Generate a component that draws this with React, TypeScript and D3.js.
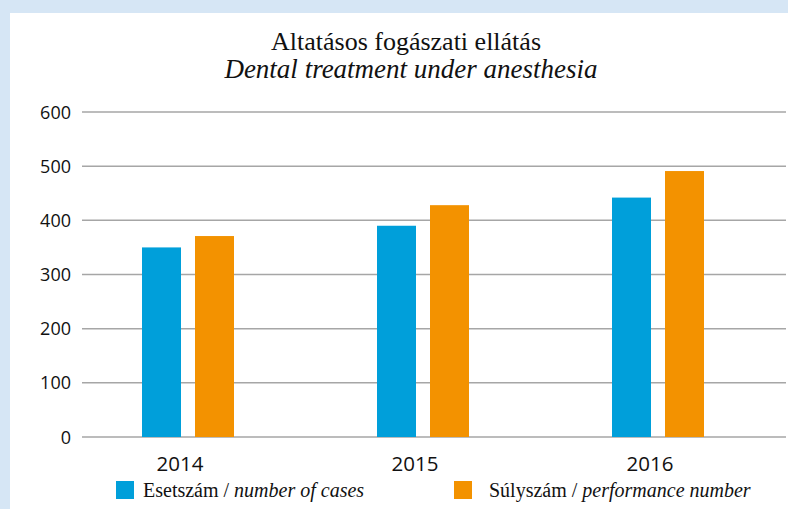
import React from "react";
import * as d3 from "d3";

const categories = ["2014", "2015", "2016"];
const cases = [350, 390, 442];
const performance = [371, 428, 491];
const yTicks = [0, 100, 200, 300, 400, 500, 600];

const W = 788;
const H = 509;

export default function App() {
  const x = d3.scaleBand<string>().domain(categories).range([70.5, 775.5]).padding(0);
  const y = d3.scaleLinear().domain([0, 600]).range([437, 112]);
  const barW = 39;
  const gap = 14;
  const series = [
    { name: "cases", values: cases, color: "#009fda", offset: -gap / 2 - barW },
    { name: "perf", values: performance, color: "#f39200", offset: gap / 2 },
  ];
  const cx = (c: string) => (x(c) as number) + x.bandwidth() / 2;
  return (
    <svg
      width={W}
      height={H}
      style={{ position: "absolute", left: 0, top: 0, display: "block" }}
    >
      <rect x={0} y={0} width={W} height={H} fill="#d6e6f5" />
      <rect x={10} y={13} width={W - 10} height={H - 13} fill="#ffffff" />
      <text
        x={406}
        y={50}
        textAnchor="middle"
        fontFamily="'Liberation Serif', serif"
        fontSize={26}
        fill="#111"
      >
        Altatásos fogászati ellátás
      </text>
      <text
        x={411}
        y={78}
        textAnchor="middle"
        fontFamily="'Liberation Serif', serif"
        fontStyle="italic"
        fontSize={27}
        fill="#111"
      >
        Dental treatment under anesthesia
      </text>
      {yTicks.map((t) => (
        <g key={t}>
          <line x1={82} x2={786} y1={y(t)} y2={y(t)} stroke="#a6a6a6" strokeWidth={1.5} />
          <text
            x={71}
            y={y(t) + 6.5}
            textAnchor="end"
            fontFamily="'Open Sans', sans-serif"
            fontSize={18}
            fill="#111"
          >
            {t}
          </text>
        </g>
      ))}
      {series.map((s) =>
        categories.map((c, i) => (
          <rect
            key={s.name + c}
            x={cx(c) + s.offset}
            y={y(s.values[i])}
            width={barW}
            height={y(0) - y(s.values[i])}
            fill={s.color}
          />
        ))
      )}
      {categories.map((c) => (
        <text
          key={c}
          x={cx(c) - 8}
          y={471}
          textAnchor="middle"
          fontFamily="'Open Sans', sans-serif"
          fontSize={20.5}
          fill="#111"
        >
          {c}
        </text>
      ))}
      <rect x={116} y={481} width={18} height={18} fill="#009fda" />
      <text x={143} y={497} fontFamily="'Liberation Serif', serif" fontSize={20} fill="#111">
        Esetszám / <tspan fontStyle="italic">number of cases</tspan>
      </text>
      <rect x={454} y={481} width={18} height={18} fill="#f39200" />
      <text x={489} y={497} fontFamily="'Liberation Serif', serif" fontSize={20} fill="#111">
        Súlyszám / <tspan fontStyle="italic">performance number</tspan>
      </text>
    </svg>
  );
}
